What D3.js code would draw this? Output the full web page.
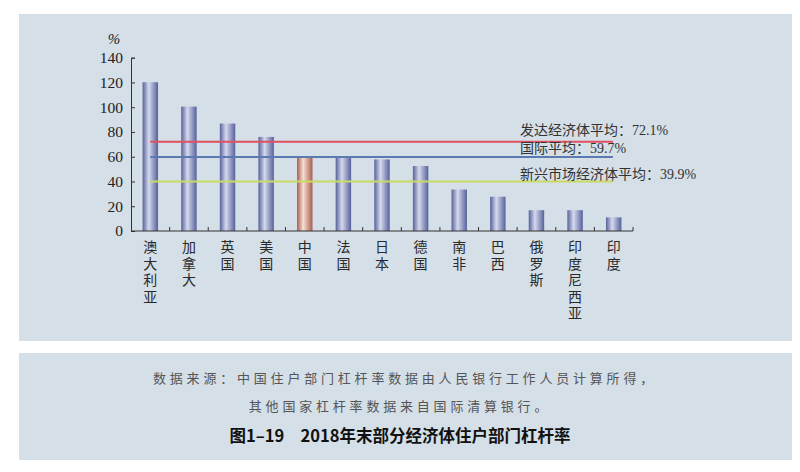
<!DOCTYPE html>
<html>
<head>
<meta charset="utf-8">
<script src="https://cdn.jsdelivr.net/npm/d3@7/dist/d3.min.js"></script>
<style>
  html, body { margin: 0; padding: 0; background: #fff; }
  svg { display: block; }
</style>
</head>
<body>
<div id="chart"></div>
<script>
// 2018年末部分经济体住户部门杠杆率（%）
const countries = ['澳大利亚', '加拿大', '英国', '美国', '中国', '法国', '日本',
  '德国', '南非', '巴西', '俄罗斯', '印度尼西亚', '印度'];
const leverage = [120.2, 100.5, 86.8, 76.0, 60.4, 59.4, 57.8, 52.5, 33.5, 27.7, 16.8, 16.8, 11.0];

// 平均线
const avgNames = ['发达经济体平均', '国际平均', '新兴市场经济体平均'];
const avgValues = [72.1, 59.7, 39.9];

const yTicks = [0, 20, 40, 60, 80, 100, 120, 140];

const W = 800, H = 472;
const serif = '"Liberation Serif", "Times New Roman", "Noto Sans CJK SC", serif';
const cjk = '"Noto Sans CJK SC", sans-serif';

const svg = d3.select('#chart').append('svg')
  .attr('width', W).attr('height', H)
  .attr('viewBox', `0 0 ${W} ${H}`);

// 柱子渐变
const defs = svg.append('defs');
function grad(id, edge, mid) {
  const g = defs.append('linearGradient').attr('id', id)
    .attr('x1', '0%').attr('x2', '100%').attr('y1', '0%').attr('y2', '0%');
  g.append('stop').attr('offset', '0%').attr('stop-color', edge);
  g.append('stop').attr('offset', '40%').attr('stop-color', mid);
  g.append('stop').attr('offset', '100%').attr('stop-color', edge);
}
grad('gBlue', '#56619a', '#d6d9ee');
grad('gRed', '#a95d4e', '#f6e0d4');

// 两块底板
svg.append('rect').attr('x', 19).attr('y', 14).attr('width', 773).attr('height', 327)
  .attr('fill', '#d4dfe8');
svg.append('rect').attr('x', 19).attr('y', 353).attr('width', 773).attr('height', 107)
  .attr('fill', '#d4dfe8');

const x = d3.scaleBand().domain(countries).range([131, 633])
  .paddingInner(0.6).paddingOuter(0.3);
const y = d3.scaleLinear().domain([0, 140]).range([231, 57.7]);

// 柱
svg.append('g').selectAll('rect').data(countries).join('rect')
  .attr('x', d => x(d))
  .attr('y', (d, i) => y(leverage[i]))
  .attr('width', x.bandwidth())
  .attr('height', (d, i) => y(0) - y(leverage[i]))
  .attr('fill', d => d === '中国' ? 'url(#gRed)' : 'url(#gBlue)');

// y 轴
const yAxis = svg.append('g').attr('transform', 'translate(131,0)')
  .call(d3.axisLeft(y).tickValues(yTicks).tickSize(-4).tickPadding(8).tickFormat(d3.format('d')));
yAxis.select('.domain').attr('stroke', '#333');
yAxis.selectAll('.tick line').attr('stroke', '#333');
yAxis.selectAll('text').attr('fill', '#222').style('font-family', serif).style('font-size', '15.5px');
svg.append('text').attr('x', 114).attr('y', 44).attr('text-anchor', 'middle')
  .style('font-family', serif).style('font-size', '15px').style('font-style', 'italic')
  .attr('fill', '#222').text('%');

// x 轴（刻度在类别边界）
const step = x.step();
svg.append('line').attr('x1', 131).attr('x2', 633).attr('y1', y(0)).attr('y2', y(0))
  .attr('stroke', '#333');
svg.append('g').selectAll('line').data(d3.range(1, countries.length + 1)).join('line')
  .attr('x1', i => 131 + i * step).attr('x2', i => 131 + i * step)
  .attr('y1', y(0)).attr('y2', y(0) - 4).attr('stroke', '#333');

// 类别标签（竖排）
svg.append('g').selectAll('text').data(countries).join('text')
  .attr('x', d => x(d) + x.bandwidth() / 2)
  .attr('y', 240)
  .style('writing-mode', 'vertical-rl')
  .style('text-orientation', 'upright')
  .style('letter-spacing', '2.5px')
  .style('font-family', cjk).style('font-size', '14px').attr('fill', '#2a2a2a')
  .text(d => d);

// 平均线
const avgColors = ['#e2515f', '#5b7ab2', '#c9dc62'];
const avgDy = [-6.5, -4.5, -2.5];
const xEnd = 613;
svg.append('g').selectAll('line').data(avgValues).join('line')
  .attr('x1', x(countries[0]) + x.bandwidth() / 2).attr('x2', xEnd)
  .attr('y1', d => y(d)).attr('y2', d => y(d))
  .attr('stroke', (d, i) => avgColors[i]).attr('stroke-width', 2);
svg.append('g').selectAll('text').data(avgValues).join('text')
  .attr('x', 520).attr('y', (d, i) => y(d) + avgDy[i])
  .style('font-family', serif).style('font-size', '14px').attr('fill', '#333')
  .text((d, i) => `${avgNames[i]}：${d}%`);

// 说明与标题
svg.append('text').attr('x', 405).attr('y', 383).attr('text-anchor', 'middle')
  .style('font-family', cjk).style('font-size', '13px').style('letter-spacing', '3.8px')
  .attr('fill', '#555').text('数据来源：中国住户部门杠杆率数据由人民银行工作人员计算所得，');
svg.append('text').attr('x', 400).attr('y', 411).attr('text-anchor', 'middle')
  .style('font-family', cjk).style('font-size', '13px').style('letter-spacing', '3.8px')
  .attr('fill', '#555').text('其他国家杠杆率数据来自国际清算银行。');
svg.append('text').attr('x', 400).attr('y', 442).attr('text-anchor', 'middle')
  .style('font-family', cjk).style('font-size', '16.5px').style('font-weight', 'bold')
  .attr('fill', '#111').text('图1–19　2018年末部分经济体住户部门杠杆率');
</script>
</body>
</html>
